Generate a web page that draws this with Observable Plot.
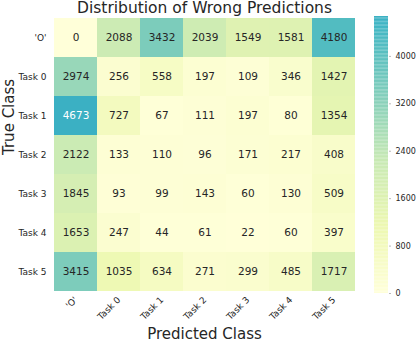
<!DOCTYPE html>
<html><head><meta charset="utf-8">
<script src="https://cdn.jsdelivr.net/npm/d3@7"></script>
<script src="https://cdn.jsdelivr.net/npm/@observablehq/plot@0.6"></script>
<style>
body{margin:0;background:#fff;}
#wrap{position:relative;width:416px;height:343px;font-family:"DejaVu Sans",sans-serif;}
#wrap svg{position:absolute;top:0;}
</style></head><body>
<div id="wrap"></div>
<script>
const classes = ["'O'", "Task 0", "Task 1", "Task 2", "Task 3", "Task 4", "Task 5"];
const rowO     = [0, 2088, 3432, 2039, 1549, 1581, 4180];
const rowTask0 = [2974, 256, 558, 197, 109, 346, 1427];
const rowTask1 = [4673, 727, 67, 111, 197, 80, 1354];
const rowTask2 = [2122, 133, 110, 96, 171, 217, 408];
const rowTask3 = [1845, 93, 99, 143, 60, 130, 509];
const rowTask4 = [1653, 247, 44, 61, 22, 60, 397];
const rowTask5 = [3415, 1035, 634, 271, 299, 485, 1717];
const colorbarTicks = [0, 800, 1600, 2400, 3200, 4000];
const title = "Distribution of Wrong Predictions";

const rows = [rowO, rowTask0, rowTask1, rowTask2, rowTask3, rowTask4, rowTask5];
const data = [];
rows.forEach((r, i) => r.forEach((v, j) => data.push({t: classes[i], p: classes[j], v})));
const vmax = d3.max(data, d => d.v);
// matplotlib-style piecewise-linear YlGnBu, truncated
const ylgnbu = d3.piecewise(d3.interpolateRgb, ["#ffffd9","#edf8b1","#c7e9b4","#7fcdbb","#41b6c4","#1d91c0","#225ea8","#253494","#081d58"]);
const colorSpec = {type: "linear", domain: [0, vmax], interpolate: t => ylgnbu(t * 0.52)};
const ink = "#262626";

const main = Plot.plot({
  width: 416, height: 343,
  marginLeft: 52, marginRight: 60, marginTop: 16, marginBottom: 50,
  style: {fontFamily: "DejaVu Sans, sans-serif", color: ink, background: "transparent"},
  x: {domain: classes, padding: 0, label: null},
  y: {domain: classes, padding: 0, label: null},
  color: colorSpec,
  marks: [
    Plot.cell(data, {x: "p", y: "t", fill: "v", inset: 0}),
    Plot.text(data, {x: "p", y: "t", text: d => String(d.v), fontSize: 10.5,
      fill: d => d.v > 4400 ? "#ffffff" : ink}),
    Plot.axisY({tickSize: 0, tickPadding: 6, fontSize: 9, label: null}),
    Plot.axisX({tickSize: 0, tickPadding: 5, tickRotate: -45, fontSize: 9, label: null}),
    Plot.text([title], {frameAnchor: "top", lineAnchor: "middle", dy: -8.5, fontSize: 15.5, fill: ink}),
    Plot.text(["Predicted Class"], {frameAnchor: "bottom", lineAnchor: "middle", dy: 41, fontSize: 15, fill: ink}),
    Plot.text(["True Class"], {frameAnchor: "left", dx: -43.5, rotate: -90, fontSize: 15, fill: ink})
  ]
});

const stops = d3.range(0, 201).map(i => vmax * i / 200);
const bar = Plot.plot({
  width: 50, height: 343,
  marginLeft: 8, marginRight: 28, marginTop: 16, marginBottom: 50,
  style: {fontFamily: "DejaVu Sans, sans-serif", color: ink, background: "transparent", overflow: "visible"},
  x: {axis: null, domain: [0, 1]},
  y: {domain: [0, vmax], axis: null},
  color: colorSpec,
  marks: [
    Plot.rect(stops, {x1: 0, x2: 1, y1: d => d, y2: d => Math.min(vmax, d + vmax / 200 + 1), fill: d => d}),
    Plot.axisY(colorbarTicks, {anchor: "right", tickSize: 2, tickPadding: 5, fontSize: 8, label: null, stroke: "#bbb", tickFormat: d => String(d)})
  ]
});

const wrap = document.getElementById("wrap");
main.style.left = "0px";
bar.style.left = "366px";
wrap.appendChild(main);
wrap.appendChild(bar);
</script>
</body></html>
